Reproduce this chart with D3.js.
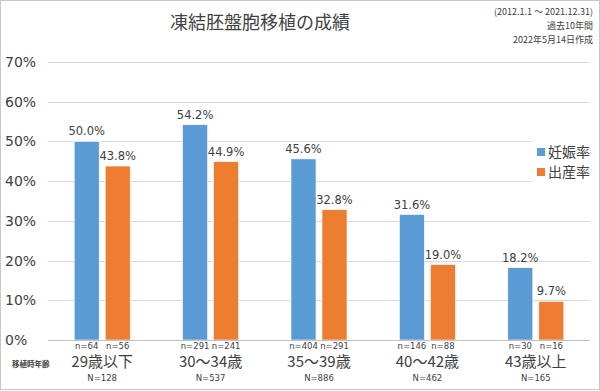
<!DOCTYPE html>
<html>
<head>
<meta charset="utf-8">
<script src="https://cdn.jsdelivr.net/npm/d3@7"></script>
<style>
  body { margin: 0; background: #fff; }
  svg text { font-family: "DejaVu Sans", "Noto Sans CJK JP", sans-serif; fill: #404040; }
  .jp { font-family: "Noto Sans CJK JP", sans-serif; }
</style>
</head>
<body>
<div id="chart"></div>
<script>
// Chart data.
const categories = ["29歳以下", "30～34歳", "35～39歳", "40～42歳", "43歳以上"];
const series = ["妊娠率", "出産率"];
const pregnancyRate = [50.0, 54.2, 45.6, 31.6, 18.2];
const birthRate = [43.8, 44.9, 32.8, 19.0, 9.7];
const pregnancyN = [64, 291, 404, 146, 30];
const birthN = [56, 241, 291, 88, 16];
const totalN = [128, 537, 886, 462, 165];
const yTicks = [0, 10, 20, 30, 40, 50, 60, 70];
const notes = ["(2012.1.1 ～ 2021.12.31)", "過去10年間", "2022年5月14日作成"];

const width = 600, height = 391;
const colors = ["#5b9bd5", "#ed7d31"];

const svg = d3.select("#chart").append("svg")
  .attr("width", width)
  .attr("height", height);

// Outer frame
svg.append("rect")
  .attr("x", 0.5).attr("y", 0.5)
  .attr("width", width - 1).attr("height", height - 2)
  .attr("fill", "#fff")
  .attr("stroke", "#c8c8c8");

const x = d3.scaleBand().domain(categories).range([48, 590]);
const y = d3.scaleLinear().domain([0, 70]).range([340, 62]);

// Gridlines
svg.append("g")
  .selectAll("line")
  .data(yTicks)
  .join("line")
  .attr("x1", 48).attr("x2", 590)
  .attr("y1", d => Math.round(y(d)) + 0.5)
  .attr("y2", d => Math.round(y(d)) + 0.5)
  .attr("stroke", "#d9d9d9");

// Y tick labels
svg.append("g")
  .selectAll("text")
  .data(yTicks)
  .join("text")
  .attr("x", 5)
  .attr("y", d => y(d) + 5)
  .attr("font-size", 14)
  .text(d => d + "%");

// Legend sits over the plot with a white box
svg.append("rect")
  .attr("x", 532).attr("y", 140)
  .attr("width", 64).attr("height", 50)
  .attr("fill", "#fff");

const barW = 25, gap = 6;
const rows = [pregnancyRate, birthRate];
const nRows = [pregnancyN, birthN];

rows.forEach((vals, s) => {
  const off = s === 0 ? -gap / 2 - barW : gap / 2;
  const g = svg.append("g");
  g.selectAll("rect")
    .data(vals)
    .join("rect")
    .attr("x", (d, i) => x(categories[i]) + x.bandwidth() / 2 + off)
    .attr("y", d => y(d))
    .attr("width", barW)
    .attr("height", d => y(0) - y(d))
    .attr("fill", colors[s])
    .attr("stroke", "#fff")
    .attr("stroke-width", 0.6);

  // Value labels
  g.selectAll(".val")
    .data(vals)
    .join("text")
    .attr("class", "val")
    .attr("text-anchor", "middle")
    .attr("x", (d, i) => x(categories[i]) + x.bandwidth() / 2 + off + barW / 2)
    .attr("y", d => y(d) - 6)
    .attr("font-size", 11.5)
    .text(d => d.toFixed(1) + "%");

  // n labels
  g.selectAll(".n")
    .data(nRows[s])
    .join("text")
    .attr("class", "n")
    .attr("text-anchor", "middle")
    .attr("x", (d, i) => x(categories[i]) + x.bandwidth() / 2 + off + barW / 2)
    .attr("y", 349)
    .attr("font-size", 8.5)
    .text(d => "n=" + d);
});

// Baseline
svg.append("line")
  .attr("x1", 48).attr("x2", 590)
  .attr("y1", 340.5).attr("y2", 340.5)
  .attr("stroke", "#bfbfbf");

// Category labels
svg.append("g")
  .selectAll("text")
  .data(categories)
  .join("text")
  .attr("class", "jp")
  .attr("text-anchor", "middle")
  .attr("x", d => x(d) + x.bandwidth() / 2)
  .attr("y", 367)
  .attr("font-size", 15)
  .text(d => d);

svg.append("g")
  .selectAll("text")
  .data(totalN)
  .join("text")
  .attr("text-anchor", "middle")
  .attr("x", (d, i) => x(categories[i]) + x.bandwidth() / 2)
  .attr("y", 381)
  .attr("font-size", 8.5)
  .text(d => "N=" + d);

svg.append("text")
  .attr("class", "jp")
  .attr("x", 12)
  .attr("y", 367)
  .attr("font-size", 7.5)
  .attr("font-weight", "bold")
  .text("移植時年齢");

// Legend
series.forEach((s, i) => {
  svg.append("rect")
    .attr("x", 537).attr("y", 148 + i * 20)
    .attr("width", 8).attr("height", 8)
    .attr("fill", colors[i]);
  svg.append("text")
    .attr("class", "jp")
    .attr("x", 548).attr("y", 157 + i * 20)
    .attr("font-size", 14)
    .text(s);
});

// Title
svg.append("text")
  .attr("class", "jp")
  .attr("text-anchor", "middle")
  .attr("x", 260).attr("y", 29)
  .attr("font-size", 18)
  .attr("fill", "#111")
  .text("凍結胚盤胞移植の成績");

// Notes, top right
svg.append("g")
  .selectAll("text")
  .data(notes)
  .join("text")
  .attr("class", "jp")
  .attr("text-anchor", "end")
  .attr("x", 593)
  .attr("y", (d, i) => 15 + i * 14)
  .attr("font-size", 9)
  .attr("fill", "#000")
  .text(d => d);
</script>
</body>
</html>
